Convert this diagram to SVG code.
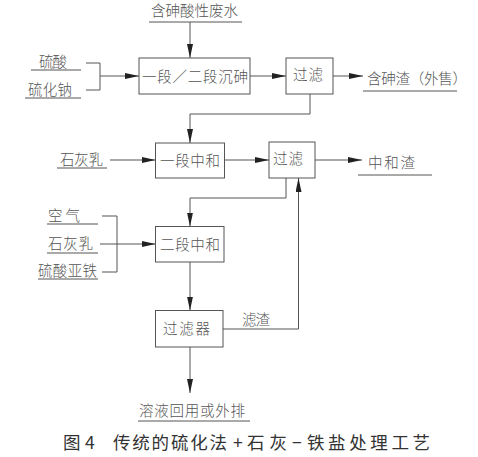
<svg xmlns="http://www.w3.org/2000/svg" width="478" height="457" viewBox="0 0 478 457">
<style>
.box{fill:#fff;stroke:#555;stroke-width:1}
.t{font-family:"Noto Sans CJK SC","Noto Sans",sans-serif;font-size:14.5px;fill:#555;font-weight:300}
.ul{stroke:#555;stroke-width:1;fill:none}
.c{stroke:#555;stroke-width:1;fill:none}
.a{marker-end:url(#ah)}
.cap{font-family:"Noto Sans CJK SC","Noto Sans",sans-serif;font-size:17.5px;fill:#333}
</style>
<defs>
<marker id="ah" markerUnits="userSpaceOnUse" markerWidth="14" markerHeight="6" refX="14" refY="3" orient="auto">
<path d="M0,0 L14,3 L0,6 z" fill="#222"/>
</marker>
</defs>
<rect width="478" height="457" fill="#fff"/>

<g id="connectors">
<line class="c a" x1="190" y1="22" x2="190" y2="58"/>
<path class="c" d="M86,63 H100 V90 H86"/>
<line class="c a" x1="100" y1="76" x2="139" y2="76"/>
<line class="c a" x1="250" y1="76" x2="286" y2="76"/>
<line class="c a" x1="333" y1="76" x2="363" y2="76"/>
<path class="c a" d="M310,94 V114 H190 V143"/>
<line class="c a" x1="110" y1="160" x2="155.5" y2="160"/>
<line class="c a" x1="224.5" y1="160" x2="269" y2="160"/>
<line class="c a" x1="315" y1="160" x2="362" y2="160"/>
<path class="c a" d="M286,178 V198 H190 V226.5"/>
<path class="c" d="M102,216 H117 V272 H102"/>
<line class="c a" x1="100" y1="244" x2="155.5" y2="244"/>
<line class="c a" x1="190" y1="262" x2="190" y2="310.5"/>
<path class="c a" d="M223,329 H298.5 V178"/>
<line class="c a" x1="190" y1="347" x2="190" y2="393"/>
</g>

<g id="in-wastewater">
<text class="t" x="151" y="16" textLength="87">含砷酸性废水</text>
<line class="ul" x1="149" y1="22" x2="242" y2="22"/>
</g>
<g id="in-h2so4">
<text class="t" x="39" y="67" textLength="28">硫酸</text>
<line class="ul" x1="31" y1="70" x2="81" y2="70"/>
</g>
<g id="in-na2s">
<text class="t" x="28" y="95" textLength="44">硫化钠</text>
<line class="ul" x1="25" y1="98" x2="81" y2="98"/>
</g>
<g id="n-precip">
<rect class="box" x="139" y="58" width="111" height="36"/>
<text class="t" x="142" y="81.5" textLength="106" font-size="15">一段／二段沉砷</text>
</g>
<g id="n-filter1">
<rect class="box" x="286" y="58" width="47" height="36"/>
<text class="t" x="293" y="80" textLength="30" font-size="15">过滤</text>
</g>
<g id="out-as-residue">
<text class="t" x="367" y="84" textLength="100">含砷渣（外售）</text>
<line class="ul" x1="363" y1="91" x2="457" y2="91"/>
</g>
<g id="in-lime1">
<text class="t" x="60" y="165" textLength="43">石灰乳</text>
<line class="ul" x1="57" y1="168" x2="107" y2="168"/>
</g>
<g id="n-neutral1">
<rect class="box" x="155.5" y="143" width="69" height="35"/>
<text class="t" x="160" y="165.5" textLength="60">一段中和</text>
</g>
<g id="n-filter2">
<rect class="box" x="269" y="142" width="46" height="36"/>
<text class="t" x="273" y="163.5" textLength="30" font-size="15">过滤</text>
</g>
<g id="out-neutral-residue">
<text class="t" x="368" y="167.5" textLength="47">中和渣</text>
<line class="ul" x1="358" y1="175" x2="432" y2="175"/>
</g>
<g id="in-air">
<text class="t" x="48" y="220.5" textLength="32">空气</text>
<line class="ul" x1="47" y1="224" x2="98" y2="224"/>
</g>
<g id="in-lime2">
<text class="t" x="48" y="248.5" textLength="45">石灰乳</text>
<line class="ul" x1="47" y1="253" x2="98" y2="253"/>
</g>
<g id="in-feso4">
<text class="t" x="38" y="275.5" textLength="59">硫酸亚铁</text>
<line class="ul" x1="38" y1="279" x2="98" y2="279"/>
</g>
<g id="n-neutral2">
<rect class="box" x="155.5" y="226.5" width="68.5" height="35.5"/>
<text class="t" x="160" y="249.5" textLength="60">二段中和</text>
</g>
<g id="n-filter3">
<rect class="box" x="155.5" y="310.5" width="67.5" height="36.5"/>
<text class="t" x="163" y="333.5" textLength="47">过滤器</text>
</g>
<g id="lbl-residue">
<text class="t" x="242" y="324.5" textLength="28">滤渣</text>
</g>
<g id="out-solution">
<text class="t" x="139" y="415.5" textLength="106">溶液回用或外排</text>
<line class="ul" x1="138" y1="421" x2="250" y2="421"/>
</g>
<g id="caption">
<text class="cap" x="63" y="449" textLength="16">图</text>
<text class="cap" x="85" y="449">4</text>
<text class="cap" x="113" y="449" textLength="114">传统的硫化法</text>
<text class="cap" x="233" y="449">+</text>
<text class="cap" x="247" y="449" textLength="40">石灰</text>
<text class="cap" x="292" y="449">−</text>
<text class="cap" x="307" y="449" textLength="123">铁盐处理工艺</text>
</g>
</svg>
